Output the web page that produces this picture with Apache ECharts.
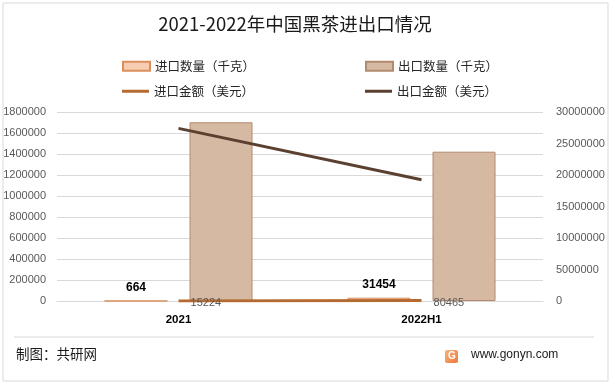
<!DOCTYPE html>
<html><head><meta charset="utf-8">
<script src="https://cdn.jsdelivr.net/npm/echarts@6/dist/echarts.min.js"></script>
<style>html,body{margin:0;padding:0;background:#fff}#c{width:611px;height:384px}</style>
</head><body><div id="c"></div>
<script>
const categories = ['2021', '2022H1'];
const importQty = [664, 31454];
const exportQty = [1702000, 1422000];
const importAmt = [15224, 80465];
const exportAmt = [27400000, 19250000];
const leftTicks = {min: 0, max: 1800000, interval: 200000};
const rightTicks = {min: 0, max: 30000000, interval: 5000000};
const names = ['进口数量（千克）', '出口数量（千克）', '进口金额（美元）', '出口金额（美元）'];

const chart = echarts.init(document.getElementById('c'));
const cjk = '"Noto Sans CJK SC", sans-serif';
const num = '"Liberation Sans", Arial, sans-serif';
const legendText = {fontFamily: cjk, fontSize: 12.5, color: '#262626'};
const plain = v => String(v);
chart.setOption({
  backgroundColor: '#fff',
  animation: false,
  title: {text: '2021-2022年中国黑茶进出口情况', left: 290, textAlign: 'center', top: 10,
    textStyle: {fontFamily: cjk, fontSize: 18.5, fontWeight: 'normal', color: '#1a1a1a'}},
  legend: [
    {data: [{name: names[0], icon: 'rect'}], left: 117, top: 55, itemWidth: 27, itemHeight: 9, textStyle: legendText},
    {data: [{name: names[1], icon: 'rect'}], left: 360, top: 55, itemWidth: 27, itemHeight: 9, textStyle: legendText},
    {data: [{name: names[2], icon: 'rect'}], left: 117, top: 80, itemWidth: 27, itemHeight: 3, textStyle: legendText},
    {data: [{name: names[3], icon: 'rect'}], left: 360, top: 80, itemWidth: 27, itemHeight: 3, textStyle: legendText}
  ],
  grid: {left: 57, right: 68, top: 112, bottom: 83},
  xAxis: {type: 'category', data: categories,
    axisLine: {lineStyle: {color: '#d9d9d9'}}, axisTick: {show: false},
    axisLabel: {fontFamily: num, fontSize: 11.5, fontWeight: 'bold', color: '#000', margin: 13}},
  yAxis: [
    {type: 'value', min: leftTicks.min, max: leftTicks.max, interval: leftTicks.interval,
      axisLine: {show: false}, axisTick: {show: false},
      axisLabel: {fontFamily: num, fontSize: 11, color: '#595959', margin: 11, formatter: plain},
      splitLine: {lineStyle: {color: '#d9d9d9'}}},
    {type: 'value', min: rightTicks.min, max: rightTicks.max, interval: rightTicks.interval,
      axisLine: {show: false}, axisTick: {show: false}, splitLine: {show: false},
      axisLabel: {fontFamily: num, fontSize: 11, color: '#595959', margin: 13, formatter: plain}}
  ],
  series: [
    {name: names[0], type: 'bar', data: importQty, barWidth: 63, barGap: '35%',
      itemStyle: {color: '#F6CDB1', borderColor: '#DA8F5C', borderWidth: 1},
      label: {show: true, position: 'top', distance: 7, fontFamily: num, fontSize: 12, fontWeight: 'bold', color: '#000'}},
    {name: names[1], type: 'bar', data: exportQty, barWidth: 63,
      itemStyle: {color: '#D6B9A3', borderColor: '#B48A6E', borderWidth: 1}},
    {name: names[2], type: 'line', yAxisIndex: 1, data: importAmt, symbol: 'circle', symbolSize: 0.1,
      lineStyle: {color: '#B46A30', width: 3}, itemStyle: {color: '#B46A30'},
      label: {show: true, position: 'right', distance: 12, offset: [0, 2], fontFamily: num, fontSize: 11, color: '#595959'}},
    {name: names[3], type: 'line', yAxisIndex: 1, data: exportAmt, symbol: 'none',
      lineStyle: {color: '#5B4030', width: 3}, itemStyle: {color: '#5B4030'}}
  ],
  graphic: [
    {type: 'rect', shape: {x: 3, y: 3, width: 605, height: 378}, style: {fill: 'none', stroke: '#d9d9d9', lineWidth: 1}, silent: true},
    {type: 'line', shape: {x1: 14, y1: 337, x2: 594, y2: 337}, style: {stroke: '#d9d9d9', lineWidth: 1}},
    {type: 'text', left: 16, top: 347, style: {text: '制图：共研网', font: '13.5px "Noto Sans CJK SC"', fill: '#1a1a1a'}},
    {type: 'rect', shape: {x: 445, y: 350, width: 13, height: 13, r: 2},
      style: {fill: {type: 'linear', x: 0, y: 0, x2: 1, y2: 1, colorStops: [{offset: 0, color: '#F7B27A'}, {offset: 1, color: '#F0783C'}]}}},
    {type: 'text', left: 448, top: 351, style: {text: 'G', font: 'bold 10px "Liberation Sans"', fill: '#fff'}},
    {type: 'text', left: 471, top: 349, style: {text: 'www.gonyn.com', font: '12px "Liberation Sans"', fill: '#1a1a1a'}}
  ]
});
</script></body></html>
